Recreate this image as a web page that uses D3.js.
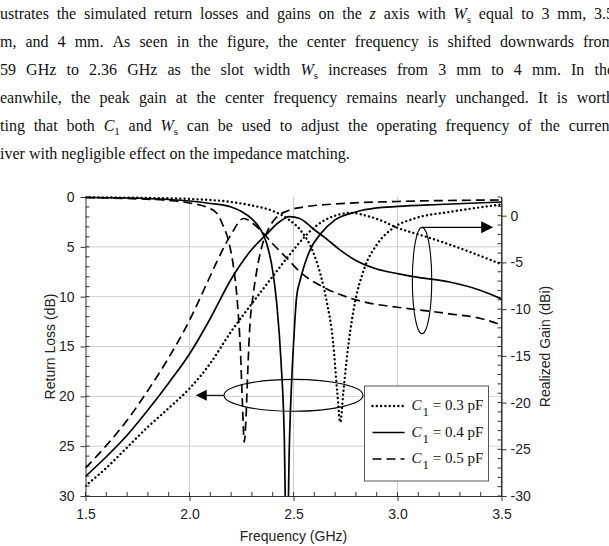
<!DOCTYPE html>
<html>
<head>
<meta charset="utf-8">
<script src="https://cdn.jsdelivr.net/npm/d3@7/dist/d3.min.js"></script>
<style>
  body { margin: 0; background: #fff; overflow: hidden; }
  svg { display: block; }
</style>
</head>
<body>
<svg id="fig" width="609" height="546"></svg>
<script>
// paragraph lines above the figure (visible part only, justified)
var paraLines = [
  ["ustrates","the","simulated","return","losses","and","gains","on","the",[["z","i"]],"axis","with",[["W","i"],["s","sub"]],"equal","to","3","mm,","3.5"],
  ["m,","and","4","mm.","As","seen","in","the","figure,","the","center","frequency","is","shifted","downwards","from"],
  ["59","GHz","to","2.36","GHz","as","the","slot","width",[["W","i"],["s","sub"]],"increases","from","3","mm","to","4","mm.","In","the"],
  ["eanwhile,","the","peak","gain","at","the","center","frequency","remains","nearly","unchanged.","It","is","worth"],
  ["ting","that","both",[["C","i"],["1","sub"]],"and",[["W","i"],["s","sub"]],"can","be","used","to","adjust","the","operating","frequency","of","the","current"],
  ["iver","with","negligible","effect","on","the","impedance","matching."]
];

// axes
var xTicks = [1.5, 2.0, 2.5, 3.0, 3.5];
var rlTicks = [0, 5, 10, 15, 20, 25, 30];
var gainTicks = [0, -5, -10, -15, -20, -25, -30];

// return loss (dB), left axis
var fRL3 = [1.5,1.8,2.0,2.2,2.3,2.4,2.48,2.54,2.59,2.63,2.66,2.69,2.71,2.725,2.74,2.76,2.79,2.84,2.9,2.98,3.09,3.25,3.5];
var rl3  = [0.03,0.1,0.2,0.5,0.85,1.4,2.3,3.5,5.3,7.8,10.5,14.5,19.5,22.6,19.5,15.5,11.2,7.2,4.8,3.1,2.1,1.5,0.75];
var fRL4 = [1.5,1.7,1.9,2.0,2.1,2.2,2.25,2.3,2.34,2.37,2.4,2.42,2.44,2.455,2.468,2.48,2.49,2.5,2.515,2.53,2.55,2.58,2.63,2.7,2.8,2.9,3.0,3.2,3.5];
var rl4  = [0.05,0.1,0.25,0.4,0.65,1.0,1.45,2.2,3.2,4.6,7.4,10.8,16.5,23.5,38,25,19,14.8,10,8.5,7.0,5.3,3.7,2.3,1.5,1.1,0.95,0.75,0.5];
var fRL5 = [1.5,1.7,1.9,2.0,2.08,2.13,2.16,2.19,2.21,2.23,2.245,2.255,2.263,2.272,2.28,2.29,2.305,2.325,2.35,2.38,2.42,2.47,2.55,2.7,3.0,3.5];
var rl5  = [0.05,0.15,0.35,0.6,1.0,1.6,2.8,4.6,6.8,10.5,15.5,21,24.6,22,17.5,13,10,7.2,4.8,3.2,2.0,1.4,1.0,0.7,0.45,0.3];

// realized gain (dBi), right axis
var fG3 = [1.5,1.6,1.7,1.8,1.9,2.0,2.1,2.2,2.3,2.4,2.48,2.56,2.62,2.7,2.78,2.85,2.92,3.0,3.1,3.2,3.35,3.5];
var g3  = [-28.9,-27.0,-24.8,-22.6,-20.6,-18.5,-15.8,-12.4,-9.4,-6.5,-4.2,-2.1,-0.9,0.0,0.3,0.0,-0.5,-1.3,-2.0,-2.7,-3.9,-5.2];
var fG4 = [1.5,1.6,1.7,1.8,1.9,2.0,2.1,2.2,2.3,2.37,2.43,2.48,2.53,2.6,2.66,2.72,2.8,2.9,3.0,3.1,3.25,3.4,3.5];
var g4  = [-27.9,-25.8,-23.5,-20.8,-17.9,-14.8,-11.0,-6.8,-3.6,-2.0,-0.7,-0.1,-0.3,-1.5,-2.5,-3.6,-4.8,-5.7,-6.2,-6.6,-7.1,-8.0,-8.9];
var fG5 = [1.5,1.6,1.7,1.8,1.9,2.0,2.07,2.13,2.2,2.26,2.32,2.4,2.47,2.53,2.64,2.77,2.9,3.0,3.25,3.4,3.5];
var g5  = [-27.0,-24.6,-21.9,-18.7,-15.2,-11.2,-7.9,-5.0,-2.0,-0.3,-1.1,-3.0,-4.6,-6.0,-7.6,-8.8,-9.5,-9.8,-10.5,-11.0,-11.7];

var legendLabels = ["0.3", "0.4", "0.5"];

var margin = {left: 85.5, right: 108, top: 197, bottom: 50};
var W = 609, H = 546;

var svg = d3.select("#fig");

// ---- paragraph ----
var para = svg.append("g")
    .attr("font-family", "'Liberation Serif','Times New Roman',serif")
    .attr("font-size", 16)
    .attr("fill", "#111");

paraLines.forEach(function(words, i) {
    var y = 19 + i * 28;
    var nodes = words.map(function(w) {
        var t = para.append("text").attr("y", y);
        var segs = (typeof w === "string") ? [[w, ""]] : w;
        segs.forEach(function(s) {
            var ts = t.append("tspan").text(s[0]);
            if (s[1] === "i") ts.attr("font-style", "italic");
            if (s[1] === "sub") ts.attr("font-size", 11).attr("dy", 4);
        });
        return t;
    });
    var widths = nodes.map(function(n) { return n.node().getComputedTextLength(); });
    var total = d3.sum(widths);
    var gap = (i < paraLines.length - 1) ? (614 - total) / (nodes.length - 1) : 4;
    var xx = 0;
    nodes.forEach(function(n, k) {
        n.attr("x", xx);
        xx += widths[k] + gap;
    });
});

// ---- chart ----
var x = d3.scaleLinear().domain([1.5, 3.5]).range([margin.left, W - margin.right + 0.5]);
var yL = d3.scaleLinear().domain([0, 30]).range([margin.top, H - margin.bottom]);
var yR = d3.scaleLinear().domain([-30, 2]).range([H - margin.bottom, margin.top]);

var x0 = x.range()[0], x1 = x.range()[1], yTop = yL(0), yBot = yL(30);

// grid
var grid = svg.append("g").attr("stroke", "#cfcfcf").attr("stroke-width", 1);
grid.selectAll(".gx").data(xTicks.slice(1, -1)).join("line")
    .attr("x1", d => x(d)).attr("x2", d => x(d)).attr("y1", yTop).attr("y2", yBot);
grid.selectAll(".gy").data(rlTicks.slice(1, -1)).join("line")
    .attr("y1", d => yL(d)).attr("y2", d => yL(d)).attr("x1", x0).attr("x2", x1);

// minor ticks (inside)
var minor = svg.append("g").attr("stroke", "#333").attr("stroke-width", 1);
minor.selectAll(".mx").data(d3.range(1.5, 3.5001, 0.1)).join("line")
    .attr("x1", d => x(d)).attr("x2", d => x(d)).attr("y1", yBot).attr("y2", yBot - 4);
minor.selectAll(".ml").data(d3.range(0, 31, 1)).join("line")
    .attr("y1", d => yL(d)).attr("y2", d => yL(d)).attr("x1", x0).attr("x2", x0 + 4);
minor.selectAll(".mr").data(d3.range(-30, 3, 1)).join("line")
    .attr("y1", d => yR(d)).attr("y2", d => yR(d)).attr("x1", x1).attr("x2", x1 - 4);

// axes with major ticks outside
var axFont = "'Liberation Sans', Arial, sans-serif";
function styleAxis(g) {
    g.select(".domain").attr("stroke", "#333");
    g.selectAll(".tick line").attr("stroke", "#333");
    g.selectAll("text").attr("font-family", axFont).attr("font-size", 14).attr("fill", "#222");
}
svg.append("g").attr("transform", "translate(0," + yBot + ")")
    .call(d3.axisBottom(x).tickValues(xTicks).tickFormat(d3.format(".1f")).tickSizeInner(5).tickSizeOuter(0).tickPadding(8))
    .call(styleAxis);
svg.append("g").attr("transform", "translate(" + x0 + ",0)")
    .call(d3.axisLeft(yL).tickValues(rlTicks).tickFormat(d3.format("d")).tickSizeInner(5).tickSizeOuter(0).tickPadding(6))
    .call(styleAxis);
svg.append("g").attr("transform", "translate(" + x1 + ",0)")
    .call(d3.axisRight(yR).tickValues(gainTicks).tickFormat(d => String(d)).tickSizeInner(5).tickSizeOuter(0).tickPadding(4))
    .call(styleAxis);
// right axis line extends to the top
svg.append("line").attr("x1", x1).attr("x2", x1).attr("y1", yTop).attr("y2", yBot).attr("stroke", "#333");

// axis titles
svg.append("text").attr("x", (x0 + x1) / 2).attr("y", 541)
    .attr("text-anchor", "middle").attr("font-family", axFont).attr("font-size", 14).attr("fill", "#222")
    .text("Frequency (GHz)");
svg.append("text").attr("transform", "translate(55," + ((yTop + yBot) / 2) + ") rotate(-90)")
    .attr("text-anchor", "middle").attr("font-family", axFont).attr("font-size", 14).attr("fill", "#222")
    .text("Return Loss (dB)");
svg.append("text").attr("transform", "translate(550," + ((yTop + yBot) / 2) + ") rotate(-90)")
    .attr("text-anchor", "middle").attr("font-family", axFont).attr("font-size", 14).attr("fill", "#222")
    .text("Realized Gain (dBi)");

// clip
svg.append("clipPath").attr("id", "plotclip").append("rect")
    .attr("x", x0).attr("y", yTop - 2).attr("width", x1 - x0).attr("height", yBot - yTop + 2);

var styles = [
    {w: 2.4, dash: "0.01 4.3", cap: "round"},
    {w: 1.7, dash: null, cap: "butt"},
    {w: 1.7, dash: "9 5", cap: "butt"}
];

var series = [
    {f: fRL3, v: rl3, s: 0, ax: "L"},
    {f: fRL4, v: rl4, s: 1, ax: "L"},
    {f: fRL5, v: rl5, s: 2, ax: "L"},
    {f: fG3, v: g3, s: 0, ax: "R"},
    {f: fG4, v: g4, s: 1, ax: "R"},
    {f: fG5, v: g5, s: 2, ax: "R"}
];

var curves = svg.append("g").attr("clip-path", "url(#plotclip)");
series.forEach(function(sr) {
    var yy = sr.ax === "L" ? yL : yR;
    var pts = sr.f.map((f, i) => [f, sr.v[i]]);
    var line = d3.line().x(d => x(d[0])).y(d => yy(d[1])).curve(d3.curveMonotoneX);
    var st = styles[sr.s];
    curves.append("path").datum(pts)
        .attr("d", line)
        .attr("fill", "none")
        .attr("stroke", "#000")
        .attr("stroke-width", st.w)
        .attr("stroke-linecap", st.cap)
        .attr("stroke-dasharray", st.dash);
});

// annotations: ellipse + arrow for each group
var ann = svg.append("g").attr("stroke", "#000").attr("fill", "none").attr("stroke-width", 1.1);
var lc = [x(2.5), yL(19.9)], lrx = x(2.834) - x(2.5), lry = yL(21.5) - yL(19.9);
ann.append("ellipse").attr("cx", lc[0]).attr("cy", lc[1]).attr("rx", lrx).attr("ry", lry);
ann.append("line").attr("x1", lc[0] - lrx).attr("y1", lc[1]).attr("x2", x(2.03) + 10).attr("y2", lc[1]);
svg.append("path").attr("fill", "#000")
    .attr("d", "M" + x(2.03) + "," + lc[1] + "l11,-5.5v11z");

var rc = [x(3.118), yR(-6.94)], rrx = x(3.1646) - x(3.118), rry = yR(-6.94) - yR(-1.25);
ann.append("ellipse").attr("cx", rc[0]).attr("cy", rc[1]).attr("rx", rrx).attr("ry", rry);
ann.append("line").attr("x1", rc[0]).attr("y1", rc[1] - rry).attr("x2", x(3.46) - 10).attr("y2", rc[1] - rry);
svg.append("path").attr("fill", "#000")
    .attr("d", "M" + x(3.46) + "," + (rc[1] - rry) + "l-12,-6v12z");

// legend
var lg = svg.append("g").attr("transform", "translate(364.5,386)");
lg.append("rect").attr("width", 124).attr("height", 95)
    .attr("fill", "#fff").attr("stroke", "#555").attr("stroke-width", 1);
legendLabels.forEach(function(lab, i) {
    var yy = 20 + i * 26.5;
    var st = styles[i];
    lg.append("line").attr("x1", 8).attr("x2", 40).attr("y1", yy).attr("y2", yy)
        .attr("stroke", "#000").attr("stroke-width", st.w)
        .attr("stroke-linecap", st.cap).attr("stroke-dasharray", st.dash);
    var t = lg.append("text").attr("x", 47).attr("y", yy + 4)
        .attr("font-family", "'Liberation Serif','Times New Roman',serif").attr("font-size", 15).attr("fill", "#111");
    t.append("tspan").attr("font-style", "italic").text("C");
    t.append("tspan").attr("font-size", 13).attr("dy", 6).attr("dx", 1).text("1");
    t.append("tspan").attr("dy", -6).text(" = " + lab + " pF");
});
</script>
</body>
</html>
